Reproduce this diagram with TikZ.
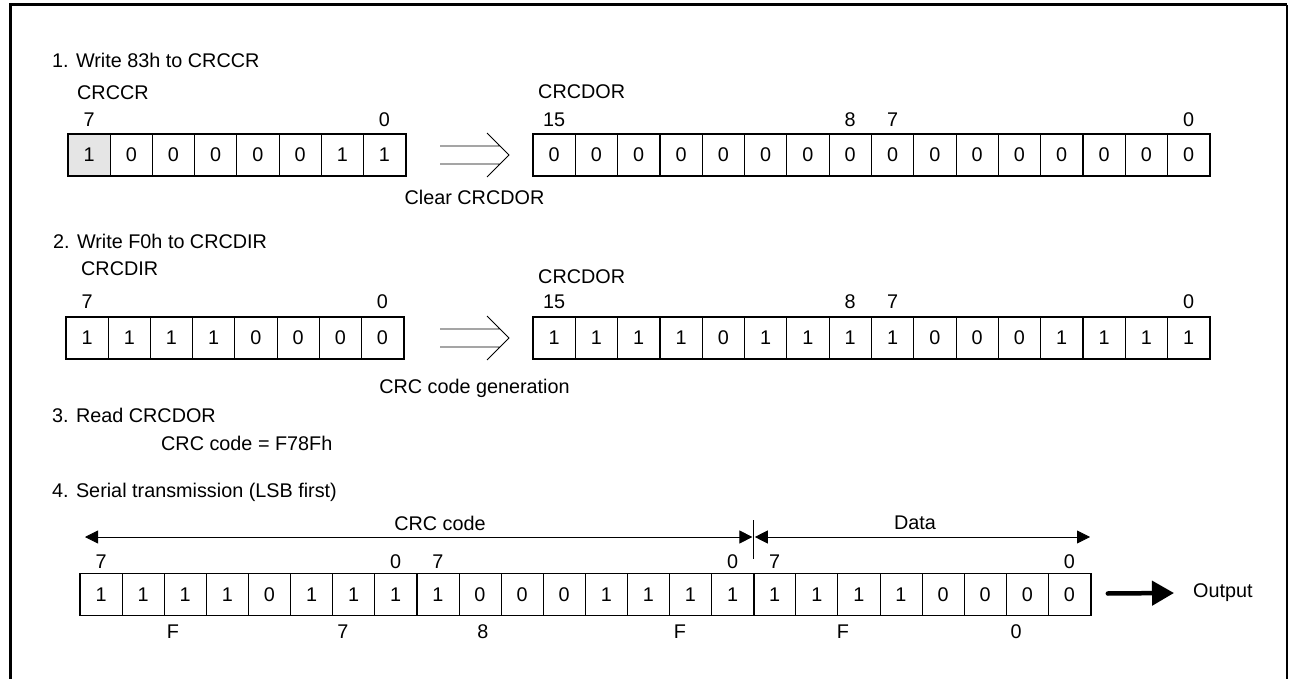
\documentclass[tikz,border=0pt]{standalone}
\usepackage{fontspec}
\setmainfont{Liberation Sans}
\usepackage{tikz}
\usetikzlibrary{arrows.meta,positioning,calc}

\tikzset{
  bitcell/.style={draw,line width=0.8pt,minimum width=42.2pt,minimum height=41.5pt,inner sep=0pt},
  regframe/.style={line width=1.4pt},
  txt/.style={anchor=west,inner sep=0pt},
  dimtip/.style={{Triangle[length=13pt,width=13pt]}-{Triangle[length=13pt,width=13pt]}},
}

\begin{document}
\begin{tikzpicture}[x=1pt,y=-1pt,every node/.style={font=\fontsize{19.8}{23}\selectfont}]
  \useasboundingbox (0,0) rectangle (1291,679);
  % outer frame, bottom edge runs off the page
  \draw[line width=3pt] (10,700) -- (10,5) -- (1287,5);
  \draw[line width=1.5pt] (1287,5) -- (1287,700);

  % 1. write 83h to CRCCR
  \node[txt] (step1) at (52,60) {1. Write 83h to CRCCR};
  \node[txt] (ccr-name) at (77,93) {CRCCR};
  \node[bitcell,fill=gray!20] (ccr-0) at (89.1,155) {1};
  \foreach \b [count=\i] in {0,0,0,0,0,1,1}
    \node[bitcell] (ccr-\i) at ({89.1+42.2*\i},155) {\b};
  \draw[regframe] (ccr-0.north west) rectangle (ccr-7.south east);
  \node (ccr-hi) at ($(ccr-0)+(0,-35)$) {7};
  \node (ccr-lo) at ($(ccr-7)+(0,-35)$) {0};

  \node[txt] (dor1-name) at (538,92) {CRCDOR};
  \foreach \i in {0,...,15}
    \node[bitcell] (dora-\i) at ({554.1+42.3*\i},155) {0};
  \draw[regframe] (dora-0.north west) rectangle (dora-15.south east);
  \node at ($(dora-0)+(0,-35)$) (dora-n15) {15};
  \node at ($(dora-7)+(0,-35)$) (dora-n8) {8};
  \node at ($(dora-8)+(0,-35)$) (dora-n7) {7};
  \node at ($(dora-15)+(0,-35)$) (dora-n0) {0};

  % hollow double arrow
  \coordinate (clr-s) at (440,155);
  \coordinate (clr-e) at (509,155);
  \draw[line width=0.8pt] ($(clr-s)+(0,-9)$) -- ($(clr-e)+(-9,-9)$)
        ($(clr-s)+(0,9)$) -- ($(clr-e)+(-9,9)$)
        ($(clr-e)+(-22,-22)$) -- (clr-e) -- ($(clr-e)+(-22,22)$);
  \node (clr-txt) at ($(clr-s)!0.5!(clr-e)+(0,42)$) {Clear CRCDOR};

  % 2. write F0h to CRCDIR
  \node[txt] (step2) at (53,241) {2. Write F0h to CRCDIR};
  \node[txt] (dir-name) at (81,269) {CRCDIR};
  \foreach \b [count=\i from 0] in {1,1,1,1,0,0,0,0}
    \node[bitcell] (dir-\i) at ({87.1+42.2*\i},338) {\b};
  \draw[regframe] (dir-0.north west) rectangle (dir-7.south east);
  \node (dir-hi) at ($(dir-0)+(0,-36)$) {7};
  \node (dir-lo) at ($(dir-7)+(0,-36)$) {0};

  \node[txt] (dor2-name) at (538,277) {CRCDOR};
  \foreach \b [count=\i from 0] in {1,1,1,1,0,1,1,1,1,0,0,0,1,1,1,1}
    \node[bitcell] (dorb-\i) at ({554.1+42.3*\i},338) {\b};
  \draw[regframe] (dorb-0.north west) rectangle (dorb-15.south east);
  \node at ($(dorb-0)+(0,-36)$) (dorb-n15) {15};
  \node at ($(dorb-7)+(0,-36)$) (dorb-n8) {8};
  \node at ($(dorb-8)+(0,-36)$) (dorb-n7) {7};
  \node at ($(dorb-15)+(0,-36)$) (dorb-n0) {0};

  \coordinate (gen-s) at (440,338);
  \coordinate (gen-e) at (509,338);
  \draw[line width=0.8pt] ($(gen-s)+(0,-9)$) -- ($(gen-e)+(-9,-9)$)
        ($(gen-s)+(0,9)$) -- ($(gen-e)+(-9,9)$)
        ($(gen-e)+(-22,-22)$) -- (gen-e) -- ($(gen-e)+(-22,22)$);
  \node (gen-txt) at ($(gen-s)!0.5!(gen-e)+(0,50)$) {CRC code generation};

  % 3. read CRCDOR
  \node[txt] (step3) at (52,415) {3. Read CRCDOR};
  \node[txt] (crc-val) at (161,443) {CRC code = F78Fh};

  % 4. serial transmission
  \node[txt] (step4) at (52,492) {4. Serial transmission (LSB first)};
  \foreach \b [count=\i from 0] in {1,1,1,1,0,1,1,1,1,0,0,0,1,1,1,1,1,1,1,1,0,0,0,0}
    \node[bitcell,minimum width=42.1pt] (tx-\i) at ({101.05+42.1*\i},594.5) {\b};
  \draw[regframe] (tx-0.north west) rectangle (tx-7.south east);
  \draw[regframe] (tx-8.north west) rectangle (tx-15.south east);
  \draw[regframe] (tx-16.north west) rectangle (tx-23.south east);
  \foreach \c/\n in {0/7,7/0,8/7,15/0,16/7,23/0}
    \node (tx-n\c) at ($(tx-\c)+(0,-32.5)$) {\n};

  % field extents
  \coordinate (crc-l) at (85,537);
  \coordinate (sep) at (753.6,537);
  \coordinate (dat-r) at (1090,537);
  \draw[line width=0.8pt] ($(sep)+(0,-17)$) -- ($(sep)+(0,22)$);
  \draw[dimtip,line width=0.8pt,shorten >=1.2pt] (crc-l) -- (sep);
  \draw[dimtip,line width=0.8pt,shorten <=1.2pt] (sep) -- (dat-r);
  \node (crc-lbl) at (440,523) {CRC code};
  \node (dat-lbl) at (915,523) {Data};

  % hex digits under the nibbles
  \foreach \x/\h in {173/F,343/7,483/8,680/F,843/F,1016/0}
    \node (hex-\x) at (\x,632) {\h};

  % output
  \node[txt] (out) at (1193,593) {Output};
  \draw[line width=4.5pt,line cap=round,-{Triangle[length=22pt,width=24pt]}]
    ($(tx-23.east)+(17,-1)$) -- ($(out.west)+(-19,0)$);
\end{tikzpicture}
\end{document}
